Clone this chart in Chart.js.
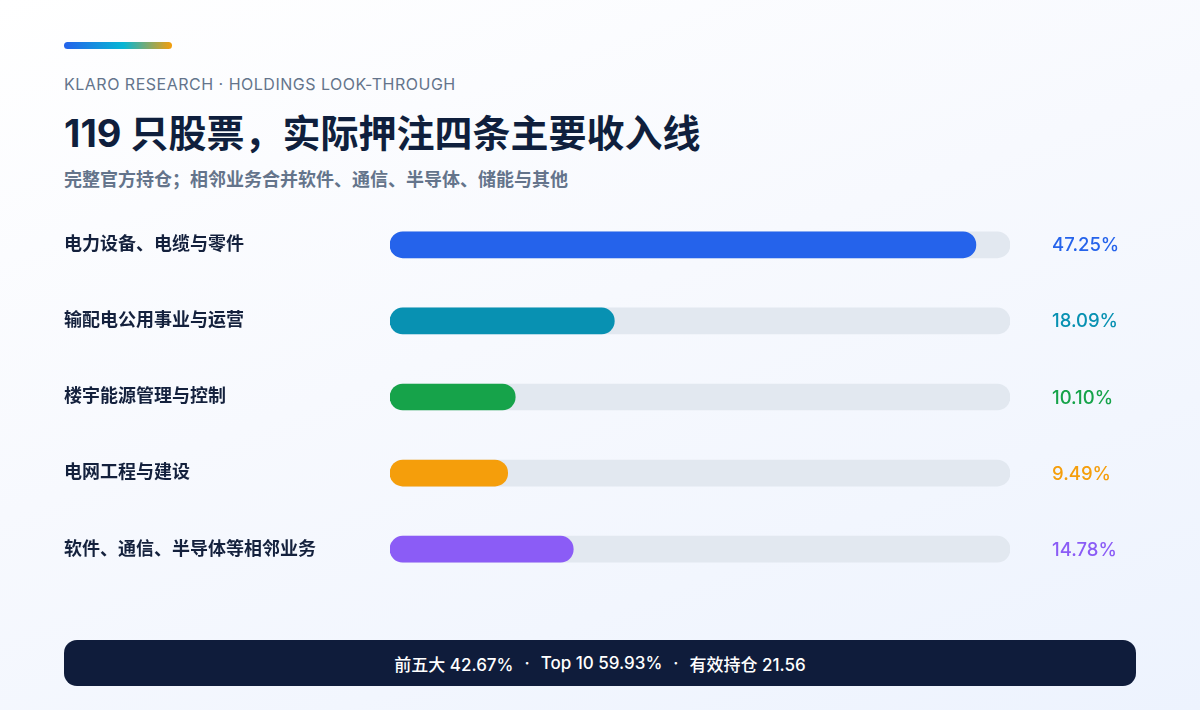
<!DOCTYPE html>
<html>
<head>
<meta charset="utf-8">
<script src="https://cdn.jsdelivr.net/npm/chart.js@4/dist/chart.umd.min.js"></script>
<style>
  html, body { margin: 0; padding: 0; }
  body {
    width: 1200px; height: 710px; position: relative; overflow: hidden;
    background: linear-gradient(160deg, #ffffff 0%, #f7f9fe 45%, #edf3fe 100%);
    font-family: Inter, "Noto Sans CJK SC", sans-serif;
  }
  .accent {
    position: absolute; left: 64px; top: 42px; width: 108px; height: 7px; border-radius: 4px;
    background: linear-gradient(90deg, #2563eb 0%, #06b6d4 55%, #f59e0b 100%);
  }
  .kicker {
    position: absolute; left: 64px; top: 76px; line-height: 17px;
    font-size: 16px; color: #64748b; letter-spacing: 0.5px;
  }
  .title {
    position: absolute; left: 64px; top: 113px; line-height: 40px;
    font-size: 38px; font-weight: 700; color: #0f1f3d;
  }
  .subtitle {
    position: absolute; left: 64px; top: 170px; line-height: 20px;
    font-size: 18px; font-weight: 600; color: #64748b;
  }
  .chart-box { position: absolute; left: 64px; top: 193px; width: 1072px; height: 408px; }
  .footer {
    position: absolute; left: 64px; top: 640px; width: 1072px; height: 46px; border-radius: 13px;
    background: #0f1c3b; color: #ffffff; font-size: 17px; font-weight: 500;
    display: flex; align-items: center; justify-content: center;
  }
  .footer .sep { margin: 0 11px; }
</style>
</head>
<body>
<div class="accent"></div>
<div class="kicker">KLARO RESEARCH · HOLDINGS LOOK-THROUGH</div>
<div class="title">119 只股票，实际押注四条主要收入线</div>
<div class="subtitle">完整官方持仓；相邻业务合并软件、通信、半导体、储能与其他</div>
<div class="chart-box"><canvas id="mixChart"></canvas></div>
<div class="footer">前五大 42.67%<span class="sep">·</span>Top 10 59.93%<span class="sep">·</span>有效持仓 21.56</div>

<script>
const categories = [
    '电力设备、电缆与零件',
    '输配电公用事业与运营',
    '楼宇能源管理与控制',
    '电网工程与建设',
    '软件、通信、半导体等相邻业务'
];
const weights = [47.25, 18.09, 10.10, 9.49, 14.78];
const barColors = ['#2563eb', '#0891b2', '#16a34a', '#f59e0b', '#8b5cf6'];
const axisMax = 50;

const fontStack = 'Inter, "Noto Sans CJK SC", sans-serif';

// value labels to the right of the track
const valueLabels = {
    id: 'valueLabels',
    afterDatasetsDraw(chart) {
        const c = chart.ctx;
        const meta = chart.getDatasetMeta(0);
        c.save();
        c.font = '500 18.5px ' + fontStack;
        c.textAlign = 'left';
        c.textBaseline = 'middle';
        meta.data.forEach((bar, i) => {
            c.fillStyle = barColors[i];
            c.fillText(weights[i].toFixed(2) + '%', chart.chartArea.right + 42, bar.y + 1);
        });
        c.restore();
    }
};

const ctx = document.getElementById('mixChart').getContext('2d');
const mixChart = new Chart(ctx, {
    type: 'bar',
    data: {
        labels: categories,
        datasets: [{
            data: weights,
            backgroundColor: barColors,
            barThickness: 26,
            borderRadius: 13,
            borderSkipped: false,
            grouped: false
        }, {
            data: categories.map(() => axisMax),
            backgroundColor: '#e2e8f0',
            barThickness: 26,
            borderRadius: 13,
            borderSkipped: false,
            grouped: false
        }]
    },
    options: {
        indexAxis: 'y',
        responsive: true,
        maintainAspectRatio: false,
        animation: false,
        layout: { padding: { top: 0, bottom: 0, left: 0, right: 126 } },
        plugins: {
            legend: { display: false },
            tooltip: { enabled: false }
        },
        scales: {
            x: { display: false, min: 0, max: axisMax },
            y: {
                grid: { display: false },
                border: { display: false },
                ticks: {
                    crossAlign: 'far',
                    color: '#14213d',
                    font: { family: fontStack, size: 18, weight: '700' }
                },
                afterFit(scale) { scale.width = 326; }
            }
        }
    },
    plugins: [valueLabels]
});
</script>
</body>
</html>
